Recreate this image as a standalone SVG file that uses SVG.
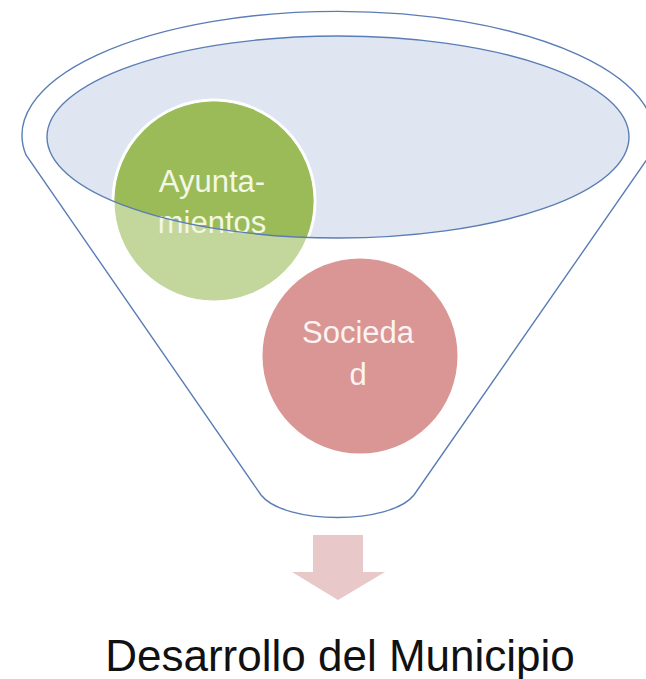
<svg xmlns="http://www.w3.org/2000/svg" width="646" height="679" viewBox="0 0 646 679">
  <style>
    .outline { fill: none; stroke: #5A7DB5; stroke-width: 1.4; }
    .lbl { font-family: "Liberation Sans", Arial, sans-serif; font-size: 31px; text-anchor: middle; }
    .title { font-family: "Liberation Sans", Arial, sans-serif; font-size: 44px; text-anchor: middle; fill: #111111; }
  </style>
  <defs>
    <clipPath id="rimClip">
      <ellipse cx="338" cy="137" rx="291" ry="101"/>
    </clipPath>
  </defs>
  <rect width="646" height="679" fill="#ffffff"/>

  <g id="funnel">
    <path d="M 26 155 A 316 124 0 1 1 650 155 L 414 495 C 390 525 285 525 261 495 Z" fill="#ffffff" class="outline"/>
    <ellipse cx="338" cy="137" rx="291" ry="101" fill="#DFE6F1"/>
  </g>

  <g id="node-ayuntamientos">
    <circle cx="214" cy="201" r="101" fill="#C3D69B" stroke="#ffffff" stroke-width="3"/>
    <circle cx="214" cy="201" r="99.5" fill="#9BBB59" clip-path="url(#rimClip)"/>
    <text class="lbl" x="212" y="192" fill="#F3F7E4">Ayunta-</text>
    <text class="lbl" x="212" y="233" fill="#F3F7E4">mientos</text>
  </g>

  <g id="rim">
    <ellipse cx="338" cy="137" rx="291" ry="101" class="outline"/>
  </g>

  <g id="node-sociedad">
    <circle cx="360" cy="356" r="99" fill="#D99694" stroke="#ffffff" stroke-width="3"/>
    <text class="lbl" x="358" y="343" fill="#FCF3F2">Socieda</text>
    <text class="lbl" x="358" y="385" fill="#FCF3F2">d</text>
  </g>

  <g id="connectors">
    <path d="M 313 535 L 363 535 L 363 572 L 385 572 L 338 600 L 292 572 L 313 572 Z" fill="#E8C8C9"/>
  </g>

  <g id="node-result">
    <text class="title" x="340" y="671">Desarrollo del Municipio</text>
  </g>
</svg>
